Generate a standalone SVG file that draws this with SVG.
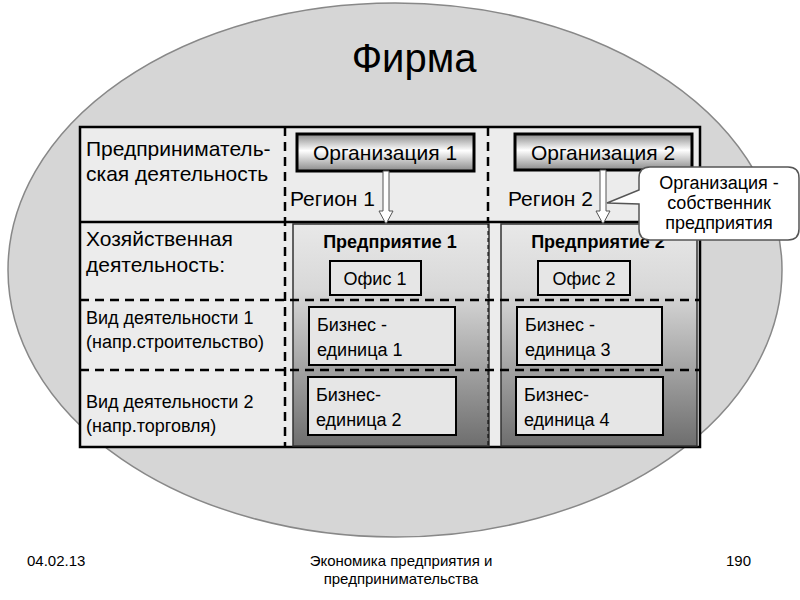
<svg xmlns="http://www.w3.org/2000/svg" width="800" height="600" viewBox="0 0 800 600">
<defs>
<linearGradient id="gOrg" x1="0" y1="0" x2="0" y2="1"><stop offset="0" stop-color="#8a8a8a"/><stop offset="0.45" stop-color="#ffffff"/><stop offset="1" stop-color="#8a8a8a"/></linearGradient>
<linearGradient id="gEnt" x1="0" y1="0" x2="0" y2="1"><stop offset="0" stop-color="#e8e8e8"/><stop offset="0.3" stop-color="#d8d8d8"/><stop offset="1" stop-color="#6e6e6e"/></linearGradient>
</defs>
<style>
text{font-family:"Liberation Sans",Arial,sans-serif;fill:#000}
.dash{stroke:#000;stroke-width:2.5;stroke-dasharray:9,6;fill:none}
.box{fill:#e6e6e6;stroke:#000;stroke-width:2}
.org{fill:url(#gOrg);stroke:#000;stroke-width:3}
.ent{fill:url(#gEnt);stroke:#333;stroke-width:1.5}
.arr{fill:#fff;stroke:#555;stroke-width:1}
</style>
<rect width="800" height="600" fill="#fff"/>
<ellipse cx="395" cy="270" rx="387" ry="267" fill="#d6d6d6" stroke="#888" stroke-width="1.5"/>
<text x="414" y="72" font-size="40" text-anchor="middle">Фирма</text>
<rect x="80" y="127" width="620" height="320" fill="#ececec" stroke="#000" stroke-width="2.5"/>
<g id="ent1"><rect class="ent" x="293" y="224" width="196" height="222"/><text x="390" y="248" font-size="18" font-weight="bold" text-anchor="middle">Предприятие 1</text></g>
<g id="ent2"><rect class="ent" x="501" y="224" width="196" height="222"/><text x="598" y="248" font-size="18" font-weight="bold" text-anchor="middle">Предприятие 2</text></g>
<line x1="80" y1="222" x2="700" y2="222" stroke="#000" stroke-width="2.5"/>
<line class="dash" x1="80" y1="300" x2="700" y2="300"/>
<line class="dash" x1="80" y1="370" x2="700" y2="370"/>
<line class="dash" x1="285" y1="127" x2="285" y2="447"/>
<line class="dash" x1="488" y1="127" x2="488" y2="222"/>
<line x1="488" y1="224" x2="488" y2="446" stroke="#000" stroke-width="1" stroke-dasharray="4,3"/>
<text font-size="21"><tspan x="86" y="156">Предприниматель-</tspan><tspan x="86" y="181">ская деятельность</tspan></text>
<text font-size="21"><tspan x="86" y="246">Хозяйственная</tspan><tspan x="86" y="272">деятельность:</tspan></text>
<text font-size="18"><tspan x="86" y="324">Вид деятельности 1</tspan><tspan x="86" y="348">(напр.строительство)</tspan></text>
<text font-size="18"><tspan x="86" y="408">Вид деятельности 2</tspan><tspan x="86" y="432">(напр.торговля)</tspan></text>
<text x="290" y="206" font-size="21">Регион 1</text>
<text x="508" y="206" font-size="21">Регион 2</text>
<g id="org1"><rect class="org" x="297" y="134" width="177" height="37"/><text x="385" y="160" font-size="21" text-anchor="middle">Организация 1</text></g>
<g id="org2"><rect class="org" x="515" y="134" width="177" height="36"/><text x="603" y="160" font-size="21" text-anchor="middle">Организация 2</text></g>
<g id="connectors">
<path class="arr" d="M383,171 H389 V211 H393 L386,224 L379,211 H383 Z"/>
<path class="arr" d="M600,170 H606 V211 H610 L603,224 L596,211 H600 Z"/>
</g>
<g id="callout"><path d="M650,167 H788 Q799,167 799,178 V229 Q799,240 788,240 H650 Q639,240 639,229 V204 L607,203 L639,190 V178 Q639,167 650,167 Z" fill="#fff" stroke="#555" stroke-width="1.5"/>
<text font-size="18" text-anchor="middle"><tspan x="719" y="189">Организация -</tspan><tspan x="719" y="209">собственник</tspan><tspan x="719" y="229">предприятия</tspan></text></g>
<g id="office1"><rect class="box" x="330" y="261" width="91" height="34"/><text x="375" y="285" font-size="18" text-anchor="middle">Офис 1</text></g>
<g id="office2"><rect class="box" x="538" y="261" width="92" height="34"/><text x="584" y="285" font-size="18" text-anchor="middle">Офис 2</text></g>
<g id="bu1"><rect class="box" x="309" y="307" width="146" height="58"/><text font-size="18"><tspan x="317" y="331">Бизнес -</tspan><tspan x="317" y="356">единица  1</tspan></text></g>
<g id="bu3"><rect class="box" x="517" y="307" width="145" height="58"/><text font-size="18"><tspan x="525" y="331">Бизнес -</tspan><tspan x="525" y="356">единица  3</tspan></text></g>
<g id="bu2"><rect class="box" x="308" y="377" width="148" height="58"/><text font-size="18"><tspan x="316" y="401">Бизнес-</tspan><tspan x="316" y="426">единица  2</tspan></text></g>
<g id="bu4"><rect class="box" x="516" y="377" width="147" height="58"/><text font-size="18"><tspan x="524" y="401">Бизнес-</tspan><tspan x="524" y="426">единица  4</tspan></text></g>
<text x="27" y="566" font-size="15">04.02.13</text>
<text font-size="15" text-anchor="middle"><tspan x="401" y="566">Экономика предприятия и</tspan><tspan x="401" y="584">предпринимательства</tspan></text>
<text x="726" y="566" font-size="15">190</text>
</svg>
